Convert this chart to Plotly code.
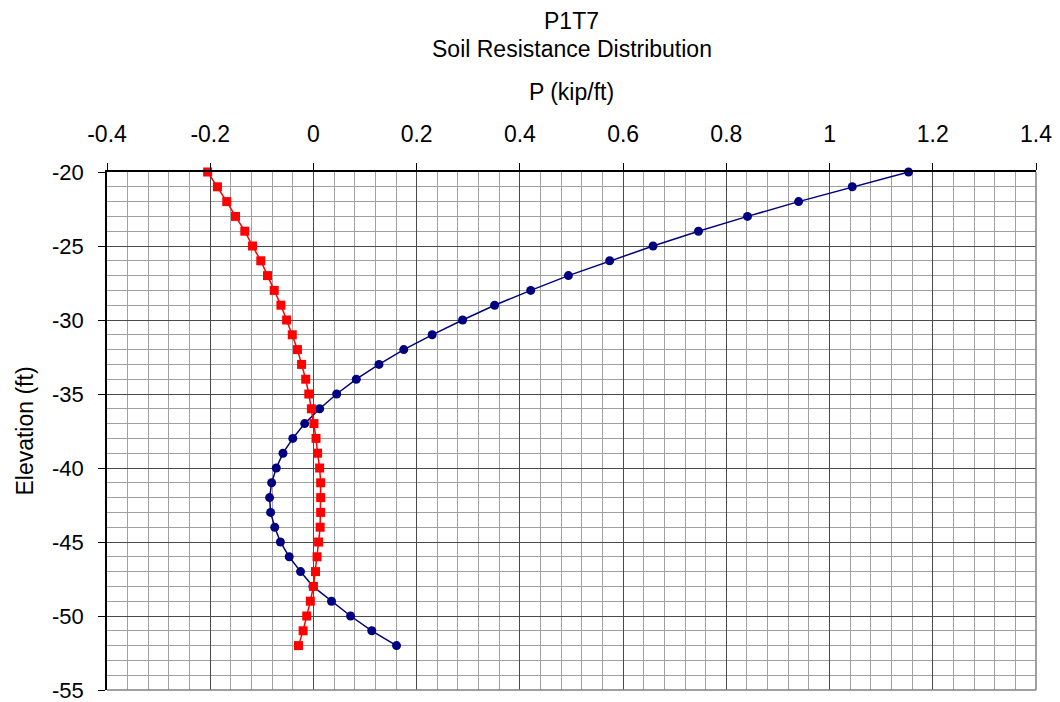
import plotly.graph_objects as go

elevation = [-20, -21, -22, -23, -24, -25, -26, -27, -28, -29, -30, -31, -32, -33, -34, -35, -36,
             -37, -38, -39, -40, -41, -42, -43, -44, -45, -46, -47, -48, -49, -50, -51, -52]

p_blue = [1.153, 1.044, 0.940, 0.841, 0.746, 0.658, 0.574, 0.494, 0.421, 0.351, 0.289, 0.230,
          0.175, 0.127, 0.083, 0.045, 0.012, -0.017, -0.040, -0.059, -0.072, -0.081, -0.085,
          -0.083, -0.075, -0.064, -0.047, -0.025, -0.001, 0.035, 0.072, 0.113, 0.161]

p_red = [-0.205, -0.186, -0.168, -0.151, -0.133, -0.118, -0.102, -0.089, -0.076, -0.063, -0.052,
         -0.041, -0.031, -0.023, -0.015, -0.009, -0.004, 0.001, 0.005, 0.008, 0.012, 0.014, 0.014,
         0.014, 0.013, 0.010, 0.007, 0.004, 0.000, -0.006, -0.013, -0.020, -0.029]

x_ticks = [-0.4, -0.2, 0, 0.2, 0.4, 0.6, 0.8, 1, 1.2, 1.4]
x_tick_labels = ["-0.4", "-0.2", "0", "0.2", "0.4", "0.6", "0.8", "1", "1.2", "1.4"]
y_ticks = [-20, -25, -30, -35, -40, -45, -50, -55]
y_tick_labels = ["-20", "-25", "-30", "-35", "-40", "-45", "-50", "-55"]

FONT = "Liberation Sans, Arial, sans-serif"
FS = 23

fig = go.Figure()
fig.add_trace(go.Scatter(
    x=p_blue, y=elevation, mode="lines+markers",
    line=dict(color="#000080", width=1.5),
    marker=dict(symbol="circle", size=9, color="#000080"),
    showlegend=False, cliponaxis=False))
fig.add_trace(go.Scatter(
    x=p_red, y=elevation, mode="lines+markers",
    line=dict(color="#FF0000", width=1.5),
    marker=dict(symbol="square", size=9, color="#FF0000"),
    showlegend=False, cliponaxis=False))

fig.update_layout(
    width=1060, height=702,
    margin=dict(l=107, r=24, t=172, b=12),
    paper_bgcolor="white", plot_bgcolor="white",
    font=dict(family=FONT, size=FS, color="black"),
    annotations=[
        dict(text="P1T7", x=0.5, y=1, xref="paper", yref="paper", showarrow=False,
             yanchor="middle", yshift=172 - 21, font=dict(size=FS)),
        dict(text="Soil Resistance Distribution", x=0.5, y=1, xref="paper", yref="paper",
             showarrow=False, yanchor="middle", yshift=172 - 49, font=dict(size=FS)),
    ],
)

fig.update_xaxes(
    side="top", range=[-0.4, 1.4], tickvals=x_ticks, ticktext=x_tick_labels,
    showgrid=True, gridcolor="#4a4a4a", gridwidth=1,
    minor=dict(dtick=0.04, showgrid=True, gridcolor="#a0a0a0", gridwidth=1, ticks=""),
    zeroline=False, showline=True, linecolor="black", linewidth=1.5,
    ticks="outside", ticklen=7, tickcolor="black",
    ticklabelstandoff=12, ticklabeloverflow="allow", automargin=False,
    title=dict(text="P (kip/ft)", font=dict(size=FS), standoff=14),
)
fig.update_yaxes(
    range=[-55, -20], tickvals=y_ticks, ticktext=y_tick_labels,
    tickfont=dict(size=22),
    showgrid=True, gridcolor="#4a4a4a", gridwidth=1,
    minor=dict(dtick=1, showgrid=True, gridcolor="#a0a0a0", gridwidth=1, ticks=""),
    zeroline=False, showline=True, linecolor="black", linewidth=1.5,
    ticks="outside", ticklen=7, tickcolor="black",
    ticklabelstandoff=10, ticklabeloverflow="allow", automargin=False,
    title=dict(text="Elevation (ft)", font=dict(size=FS), standoff=12),
)
fig.add_shape(type="line", xref="paper", yref="paper", x0=1, x1=1, y0=0, y1=1,
              line=dict(color="#808080", width=1.5))
fig.add_shape(type="line", xref="paper", yref="paper", x0=0, x1=1, y0=0, y1=0,
              line=dict(color="#808080", width=1.5))

fig.write_html("out.html")
